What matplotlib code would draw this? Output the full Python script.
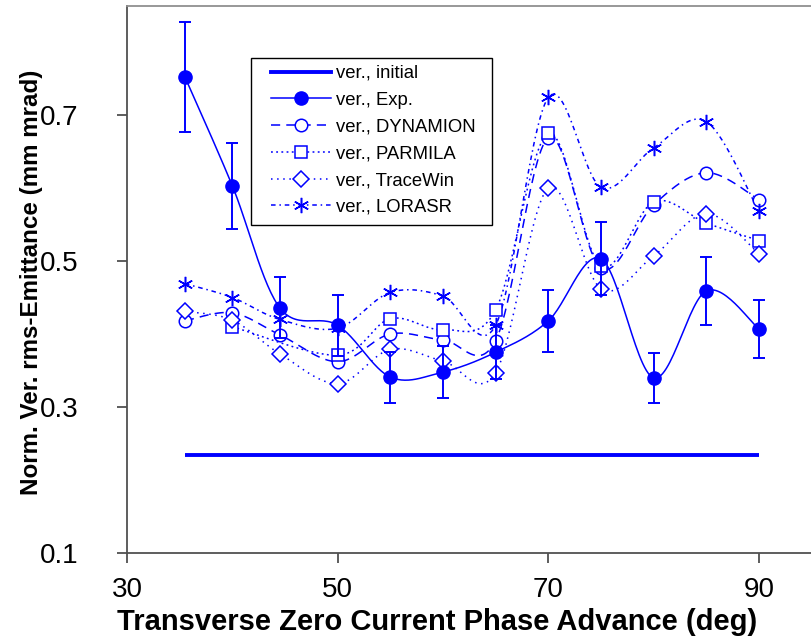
import numpy as np
import matplotlib
matplotlib.use("Agg")
import matplotlib.pyplot as plt
from matplotlib.lines import Line2D
from matplotlib.patches import Rectangle

plt.rcParams['font.family'] = ['Liberation Sans', 'DejaVu Sans']

BLUE = (0, 0, 1)

# phase advance (deg) and normalised vertical rms emittance (mm mrad)
phase = [35.5, 40, 44.5, 50, 55, 60, 65, 70, 75, 80, 85, 90]
initial = [0.234, 0.234]
initial_x = [35.5, 90]

exp_val = [0.752, 0.603, 0.436, 0.412, 0.341, 0.348, 0.375, 0.418, 0.503, 0.340, 0.459, 0.407]
exp_err = [0.075, 0.059, 0.042, 0.042, 0.035, 0.035, 0.037, 0.042, 0.050, 0.034, 0.047, 0.040]

dynamion = [0.418, 0.429, 0.399, 0.362, 0.400, 0.392, 0.391, 0.669, 0.490, 0.577, 0.621, 0.584]

parmila_x = [40, 50, 55, 60, 65, 70, 75, 80, 85, 90]
parmila = [0.410, 0.371, 0.421, 0.406, 0.433, 0.675, 0.493, 0.581, 0.552, 0.528]

tracewin = [0.431, 0.419, 0.373, 0.332, 0.379, 0.363, 0.347, 0.600, 0.462, 0.507, 0.565, 0.510]

lorasr = [0.469, 0.450, 0.420, 0.408, 0.457, 0.452, 0.412, 0.724, 0.601, 0.655, 0.691, 0.568]


def smooth(x, y, n=30):
    # cubic bezier through the points (spreadsheet-style smoothed line)
    x = np.asarray(x, float)
    y = np.asarray(y, float)
    sx = x / 60.0
    sy = y / 0.75
    px, py = [sx[0]], [sy[0]]
    t = np.linspace(0, 1, n)[1:]
    for i in range(len(x) - 1):
        i0 = max(i - 1, 0)
        i3 = min(i + 2, len(x) - 1)
        c1x = sx[i] + (sx[i + 1] - sx[i0]) / 6
        c1y = sy[i] + (sy[i + 1] - sy[i0]) / 6
        c2x = sx[i + 1] - (sx[i3] - sx[i]) / 6
        c2y = sy[i + 1] - (sy[i3] - sy[i]) / 6
        bx = ((1 - t) ** 3 * sx[i] + 3 * (1 - t) ** 2 * t * c1x
              + 3 * (1 - t) * t ** 2 * c2x + t ** 3 * sx[i + 1])
        by = ((1 - t) ** 3 * sy[i] + 3 * (1 - t) ** 2 * t * c1y
              + 3 * (1 - t) * t ** 2 * c2y + t ** 3 * sy[i + 1])
        px.extend(bx)
        py.extend(by)
    return np.array(px) * 60.0, np.array(py) * 0.75


fig = plt.figure(figsize=(8.11, 6.39), dpi=100)
ax = fig.add_axes([127 / 811, 1 - 553 / 639, (811 - 127) / 811, (553 - 6) / 639])

styles = [
    ("ver., DYNAMION", phase, dynamion, (0, (6, 4)), 'o', 9),
    ("ver., PARMILA", parmila_x, parmila, (0, (1.2, 2.2)), 's', 9),
    ("ver., TraceWin", phase, tracewin, (0, (1, 3)), 'D', 8),
    ("ver., LORASR", phase, lorasr, (0, (3, 2.5, 1, 2.5)), (6, 2, 0), 11),
]

handles = [
    Line2D([], [], color=BLUE, lw=2.8, label="ver., initial"),
    Line2D([], [], color=BLUE, lw=1.1, marker='o', ms=9.5, label="ver., Exp."),
]

ax.plot(initial_x, initial, color=BLUE, lw=2.8, solid_capstyle='butt')

sx, sy = smooth(phase, exp_val)
ax.plot(sx, sy, color=BLUE, lw=1.1)
ax.errorbar(phase, exp_val, yerr=exp_err, fmt='o', color=BLUE, ms=9.5,
            elinewidth=1.4, capsize=4.5, capthick=1.4, zorder=4)

for label, xs, ys, ls, mk, ms in styles:
    sx, sy = smooth(xs, ys)
    ax.plot(sx, sy, color=BLUE, lw=1.1, ls=ls)
    ax.plot(xs, ys, ls='none', marker=mk, ms=ms, mfc='white', mec=BLUE,
            mew=1.1, zorder=3)
    handles.append(Line2D([], [], color=BLUE, lw=1.1, ls=ls, marker=mk, ms=ms,
                          mfc='white', mec=BLUE, mew=1.1, label=label))

ax.set_xlim(30, 30 + 684 / 10.533)
ax.set_ylim(0.1, 0.1 + 547 / 730)
ax.set_xticks([30, 50, 70, 90])
ax.set_yticks([0.1, 0.3, 0.5, 0.7])
ax.set_yticklabels(['0.1', '0.3', '0.5', '0.7'])

for s in ['left', 'bottom']:
    ax.spines[s].set_color('#505050')
    ax.spines[s].set_linewidth(1.3)
ax.spines['top'].set_color('#909090')
ax.spines['top'].set_linewidth(1.3)
ax.spines['right'].set_visible(False)

ax.tick_params(axis='both', colors='#505050', labelcolor='black', width=1.3,
               length=7, direction='out', labelsize=20)
ax.tick_params(axis='y', pad=28)
ax.tick_params(axis='x', pad=10)

ax.set_xlabel("Transverse Zero Current Phase Advance (deg)", fontsize=21,
              fontweight='bold', va='top')
ax.xaxis.set_label_coords(0.453, -0.1)
ax.set_ylabel("Norm. Ver. rms-Emittance (mm mrad)", fontsize=17.4,
              fontweight='bold')
ax.yaxis.set_label_coords(-0.123, 0.495)

# legend box drawn on its own so the inner padding can be wider than tall
box = Rectangle((251 / 811, 1 - 225 / 639), 241 / 811, 167 / 639,
                transform=fig.transFigure, facecolor='white',
                edgecolor='black', lw=1.0, zorder=5)
fig.patches.append(box)

leg = fig.legend(handles=handles, loc='upper left',
                 bbox_to_anchor=(271 / 811, 1 - 65 / 639), fontsize=13.3,
                 frameon=False, borderaxespad=0, borderpad=0,
                 handlelength=3.25, labelspacing=0.53, handletextpad=0.25)
leg.set_zorder(6)

fig.savefig("out.png", dpi=100)
